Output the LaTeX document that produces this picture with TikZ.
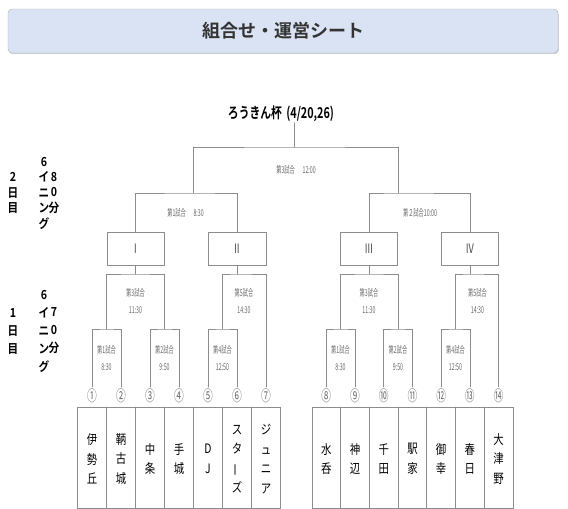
\documentclass[tikz,border=0pt]{standalone}
\usepackage{fontspec}
\usepackage{graphicx}
\newfontfamily\cjk{Noto Sans CJK JP}[BoldFont={Noto Sans CJK JP Bold}]
\usetikzlibrary{shadows,calc}
\definecolor{titlefill}{RGB}{218,227,243}
\definecolor{linegray}{RGB}{140,140,140}
\definecolor{labelgray}{RGB}{105,105,105}
\newcommand{\narrow}[1]{\scalebox{0.7}[1]{#1}}
\newcommand{\longbar}{\rotatebox[origin=c]{90}{ー}}
\tikzset{
  headbox/.style={draw=gray!60,fill=titlefill,rounded corners=4pt,minimum width=550pt,minimum height=44pt,
    drop shadow={opacity=0.35,shadow xshift=0.8pt,shadow yshift=-1.2pt},
    font=\cjk\bfseries\fontsize{18}{18}\selectfont,text=black!80},
  cuplbl/.style={font=\cjk\bfseries\fontsize{15}{15}\selectfont,xscale=0.72,inner sep=1pt},
  daylbl/.style={font=\cjk\bfseries\fontsize{12.5}{#1}\selectfont,align=center,xscale=0.85,inner sep=0pt},
  bline/.style={draw=linegray,line width=0.7pt},
  tline/.style={draw=linegray,line width=0.7pt},
  rbox/.style={draw=linegray,line width=0.7pt,minimum width=57pt,minimum height=33pt,inner sep=0pt,
    text=black!70,font=\cjk\fontsize{13}{13}\selectfont},
  gamelbl/.style={text=labelgray,font=\cjk\fontsize{9.5}{17}\selectfont,align=center,xscale=0.55,inner sep=0pt},
  numlbl/.style={text=labelgray,font=\cjk\fontsize{15}{15}\selectfont,xscale=0.65,inner sep=0pt,outer sep=2pt},
  teamlbl/.style={font=\cjk\fontsize{13}{19.5}\selectfont,align=center,xscale=0.8,inner sep=0pt},
}
\begin{document}
\begin{tikzpicture}[x=1pt,y=-1pt,line cap=round]
\useasboundingbox (0,0) rectangle (568,509);
\node[headbox] (head) at (283,31) {組合せ・運営シート};
\node[cuplbl] (cup) at (281,113.5) {ろうきん杯\hspace{6pt}(4/20,26)};
% day labels
\node[daylbl=15.5] (day2a) at (13,193) {2\\日\\目};
\node[daylbl=15.5] (day2b) at (44,193) {6\\イ\\ニ\\ン\\グ};
\node[daylbl=15.5] (day2c) at (54,193) {8\\0\\分};
\node[daylbl=18] (day1a) at (13,331) {1\\日\\目};
\node[daylbl=18] (day1b) at (44,331) {6\\イ\\ニ\\ン\\グ};
\node[daylbl=18] (day1c) at (54,331) {7\\0\\分};
% semifinal boxes
\node[rbox] (r1) at (135.5,248.5) {\narrow{Ⅰ}};
\node[rbox,minimum width=58pt] (r2) at (237,248.5) {\narrow{Ⅱ}};
\node[rbox] (r3) at (369,248.5) {\narrow{Ⅲ}};
\node[rbox] (r4) at (470,248.5) {\narrow{Ⅳ}};
% teams
\draw[tline] (77.5,407) rectangle (280.5,508);
\foreach \k in {1,...,6} \draw[tline] (77.5+29*\k,407) -- (77.5+29*\k,508);
\draw[tline] (312,407) rectangle (513,508);
\foreach \k in {1,...,6} \draw[tline] (312+28.7*\k,407) -- (312+28.7*\k,508);
\foreach \name [count=\i] in {伊\\勢\\丘,鞆\\古\\城,中\\条,手\\城,D\\J,ス\\タ\\\longbar\\ズ,ジ\\ュ\\ニ\\ア}
  \node[teamlbl] (t\i) at (63+29*\i,459) {\name};
\foreach \name [count=\i from 8] in {水\\呑,神\\辺,千\\田,駅\\家,御\\幸,春\\日,大\\津\\野}
  \node[teamlbl] (t\i) at (312+28.7*\i-215.25,459) {\name};
\foreach \c [count=\i] in {①,②,③,④,⑤,⑥,⑦}
  \node[numlbl] (n\i) at (63+29*\i,396) {\c};
\foreach \c [count=\i from 8] in {⑧,⑨,⑩,⑪,⑫,⑬,⑭}
  \node[numlbl] (n\i) at (312+28.7*\i-215.25,396) {\c};
% bracket junctions
\coordinate (lv1) at (0,274);
\coordinate (lv0) at (0,329);
\coordinate (f) at (294,147);
\coordinate (s1) at (193,193);
\coordinate (s2) at (398,193);
\coordinate (a) at (r1.south |- lv1);
\coordinate (b) at (r2.south |- lv1);
\coordinate (c) at (r3.south |- lv1);
\coordinate (d) at (r4.south |- lv1);
\coordinate (ma1) at ($(n1)!0.5!(n2)$);
\coordinate (ma2) at ($(n3)!0.5!(n4)$);
\coordinate (mb1) at ($(n5)!0.5!(n6)$);
\coordinate (mc1) at ($(n8)!0.5!(n9)$);
\coordinate (mc2) at ($(n10)!0.5!(n11)$);
\coordinate (md1) at ($(n12)!0.5!(n13)$);
\coordinate (a1) at (ma1 |- lv0);
\coordinate (a2) at (ma2 |- lv0);
\coordinate (b1) at (mb1 |- lv0);
\coordinate (c1) at (mc1 |- lv0);
\coordinate (c2) at (mc2 |- lv0);
\coordinate (d1) at (md1 |- lv0);
% day 1
\draw[bline] (n1.north) |- (a1) -| (n2.north);
\draw[bline] (n3.north) |- (a2) -| (n4.north);
\draw[bline] (a1) |- (a) -| (a2);
\draw[bline] (a) -- (r1.south);
\draw[bline] (n5.north) |- (b1) -| (n6.north);
\draw[bline] (b1) |- (b) -| (n7.north);
\draw[bline] (b) -- (r2.south);
\draw[bline] (n8.north) |- (c1) -| (n9.north);
\draw[bline] (n10.north) |- (c2) -| (n11.north);
\draw[bline] (c1) |- (c) -| (c2);
\draw[bline] (c) -- (r3.south);
\draw[bline] (n12.north) |- (d1) -| (n13.north);
\draw[bline] (d1) |- (d) -| (n14.north);
\draw[bline] (d) -- (r4.south);
% day 2
\draw[bline] (r1.north) |- (s1) -| (r2.north);
\draw[bline] (r3.north) |- (s2) -| (r4.north);
\draw[bline] (s1) |- (f) -| (s2);
\draw[bline] (f) -- (f |- cup.south);
% game labels
\node[gamelbl] (gfin) at (296,170) {第3試合\hspace{14pt}12:00};
\node[gamelbl] (gsf1) at (185.5,213) {第1試合\hspace{14pt}8:30};
\node[gamelbl] (gsf2) at (420,213) {第２試合10:00};
\node[gamelbl] (ga) at (135.5,301.5) {第3試合\\11:30};
\node[gamelbl] (ga1) at (106.5,358.5) {第1試合\\8:30};
\node[gamelbl] (ga2) at (164.5,358.5) {第2試合\\9:50};
\node[gamelbl] (gb) at (244,301.5) {第5試合\\14:30};
\node[gamelbl] (gb1) at (222.5,358.5) {第4試合\\12:50};
\node[gamelbl] (gc) at (369,301.5) {第3試合\\11:30};
\node[gamelbl] (gc1) at (340.5,358.5) {第1試合\\8:30};
\node[gamelbl] (gc2) at (398,358.5) {第2試合\\9:50};
\node[gamelbl] (gd) at (477.5,301.5) {第5試合\\14:30};
\node[gamelbl] (gd1) at (455.5,358.5) {第4試合\\12:50};
\end{tikzpicture}
\end{document}
